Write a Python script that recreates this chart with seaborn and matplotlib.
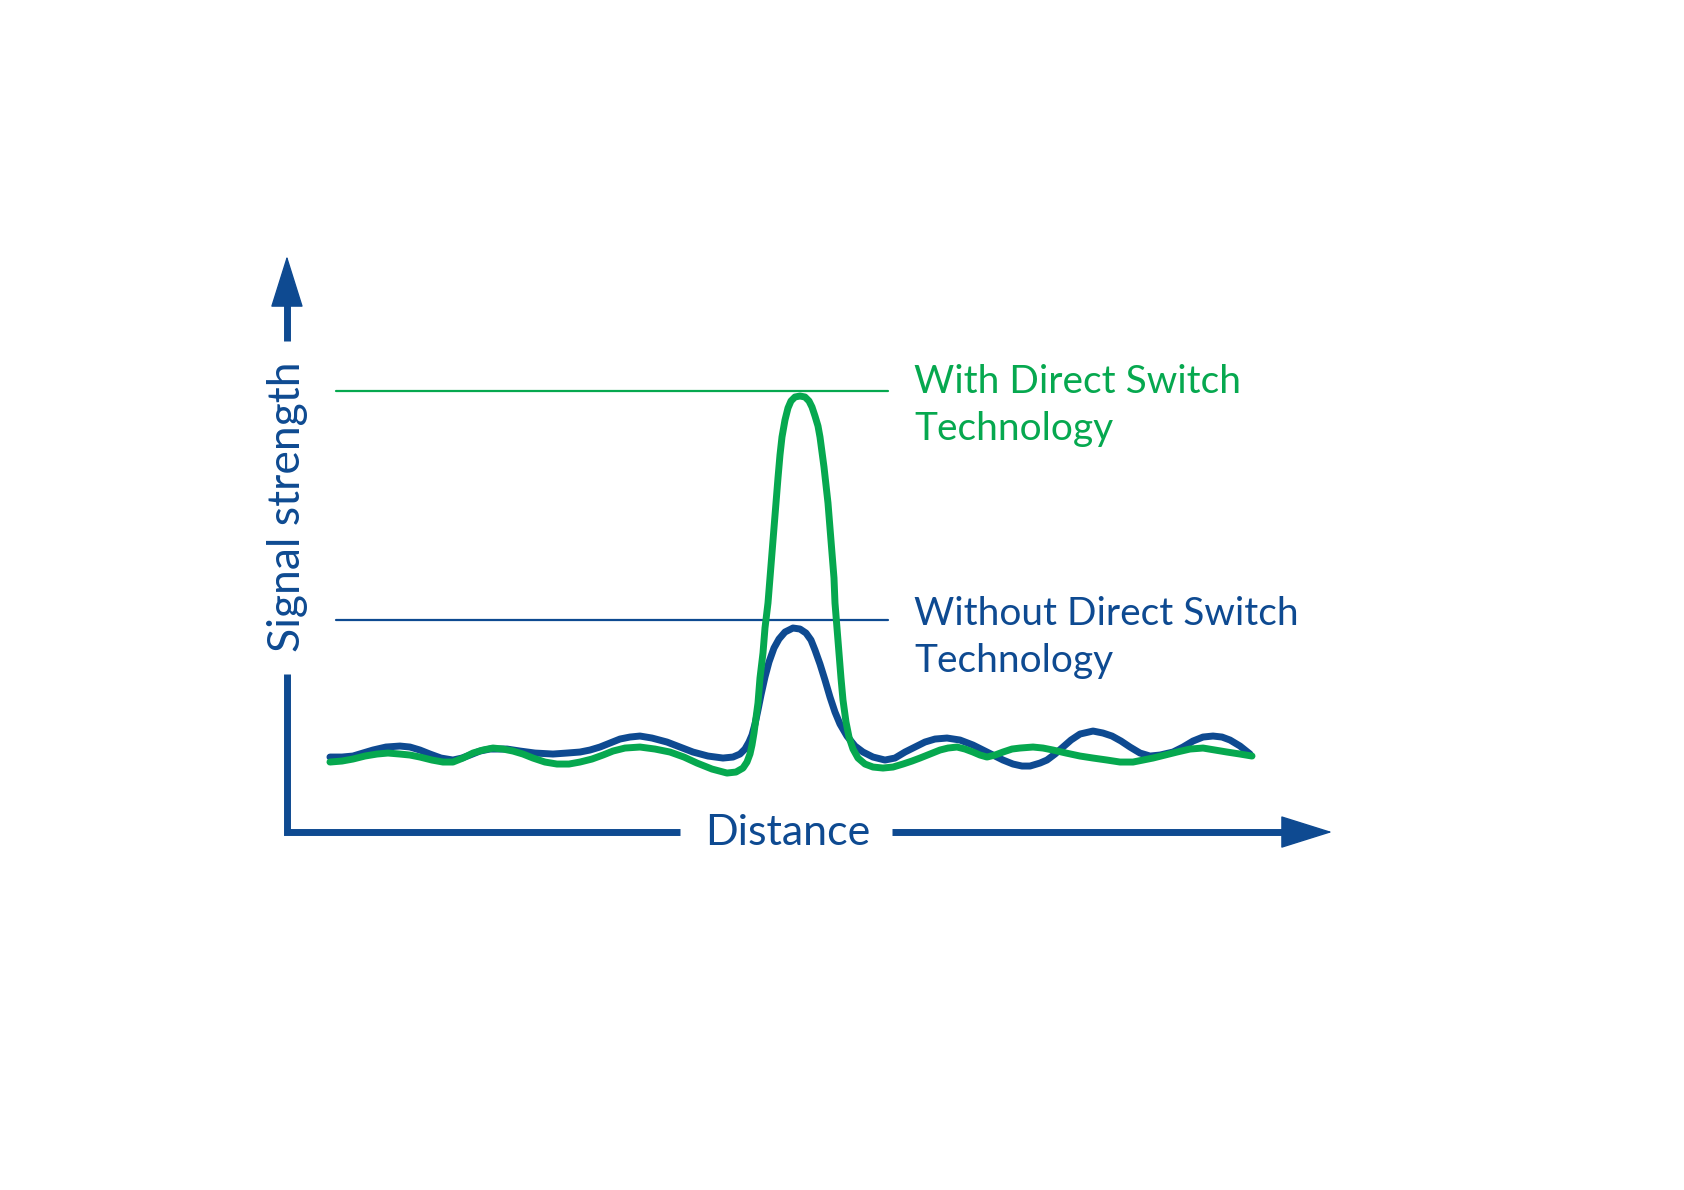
import pandas as pd
import matplotlib.pyplot as plt
import seaborn as sns

BLUE = "#0e4a91"
GREEN = "#06a84f"

# distance / signal strength (arbitrary units)
blue_distance = [43, 55, 66, 76, 86, 99, 113, 123, 133, 143,
                 154, 166, 175, 183, 193, 203, 220, 233, 248, 266,
                 280, 293, 303, 313, 323, 333, 343, 353, 365, 380,
                 393, 406, 421, 436, 446, 453, 458, 462, 465, 468,
                 471, 474, 478, 482, 487, 492, 498, 506, 513, 519,
                 524, 528, 533, 538, 543, 548, 553, 560, 568, 576,
                 586, 598, 608, 618, 628, 638, 648, 660, 673, 686,
                 696, 706, 716, 726, 735, 743, 753, 760, 768, 776,
                 784, 793, 806, 816, 825, 834, 843, 853, 863, 873,
                 886, 896, 906, 916, 926, 935, 943, 953, 963]
blue_signal = [75, 75, 76, 79, 82, 85, 86, 85, 82, 78,
               74, 72, 74, 77, 81, 83, 83, 81, 79, 78,
               79, 80, 82, 85, 89, 93, 95, 96, 94, 90,
               85, 80, 76, 74, 75, 78, 83, 90, 97, 108,
               122, 137, 155, 170, 184, 193, 200, 204, 203, 199,
               192, 182, 168, 152, 135, 120, 108, 96, 86, 80,
               75, 72, 74, 80, 85, 90, 93, 94, 92, 87,
               82, 77, 72, 68, 66, 66, 69, 72, 78, 85,
               92, 98, 101, 99, 96, 91, 85, 79, 76, 77,
               80, 85, 91, 95, 96, 95, 92, 86, 78]

green_distance = [43, 55, 66, 78, 90, 101, 113, 123, 133, 145,
                  156, 166, 176, 186, 196, 206, 216, 226, 236, 246,
                  258, 270, 282, 293, 305, 316, 326, 338, 353, 368,
                  383, 397, 410, 425, 440, 449, 456, 460, 463, 465,
                  467, 469, 471, 473, 476, 478, 481, 483, 485, 487,
                  489, 491, 493, 495, 498, 501, 504, 508, 513, 518,
                  522, 525, 528, 531, 533, 535, 537, 539, 541, 543,
                  545, 547, 548, 550, 552, 554, 556, 559, 562, 566,
                  571, 578, 586, 596, 606, 616, 625, 633, 643, 653,
                  661, 670, 678, 686, 693, 700, 708, 716, 725, 733,
                  746, 756, 766, 779, 793, 806, 820, 833, 846, 856,
                  866, 878, 890, 903, 916, 928, 940, 953, 965]
green_signal = [70, 71, 73, 76, 78, 79, 78, 77, 75, 72,
                70, 70, 74, 79, 82, 84, 83, 81, 78, 74,
                70, 68, 68, 70, 73, 77, 81, 84, 85, 83,
                80, 75, 69, 63, 59, 60, 64, 70, 78, 87,
                99, 114, 129, 154, 179, 204, 229, 254, 279, 304,
                329, 354, 377, 395, 412, 424, 431, 435, 436, 435,
                431, 425, 416, 406, 395, 380, 365, 347, 329, 304,
                279, 254, 229, 204, 179, 154, 132, 110, 95, 83,
                74, 68, 65, 64, 65, 68, 71, 74, 78, 82,
                84, 85, 83, 80, 77, 75, 77, 80, 83, 84,
                85, 84, 82, 79, 76, 74, 72, 70, 70, 72,
                74, 77, 80, 83, 84, 82, 80, 78, 76]

# reference levels and their extent
level_with = 441
level_without = 212
level_span = [49, 601]

label_with = "With Direct Switch\nTechnology"
label_without = "Without Direct Switch\nTechnology"


def main():
    sns.set_theme(style="white")
    plt.rcParams["font.family"] = ["Lato", "DejaVu Sans"]

    fig = plt.figure(figsize=(16.84, 11.90), dpi=100)
    ax = fig.add_axes([0.1704, 0.3008, 0.6194, 0.4824])
    ax.set_xlim(0, 1043)
    ax.set_ylim(0, 574)
    ax.axis("off")

    blue_df = pd.DataFrame({"distance": blue_distance, "signal": blue_signal})
    green_df = pd.DataFrame({"distance": green_distance, "signal": green_signal})

    # reference levels
    ax.plot(level_span, [level_with, level_with], color=GREEN, lw=1.6)
    ax.plot(level_span, [level_without, level_without], color=BLUE, lw=1.6)

    sns.lineplot(data=blue_df, x="distance", y="signal", color=BLUE, lw=5,
                 estimator=None, ax=ax, solid_capstyle="round")
    sns.lineplot(data=green_df, x="distance", y="signal", color=GREEN, lw=5,
                 estimator=None, ax=ax, solid_capstyle="round")

    # axes drawn by hand, with gaps for the titles
    shaft = dict(color=BLUE, lw=5, clip_on=False, solid_capstyle="butt")
    ax.plot([0, 0, 393], [158, 0, 0], solid_joinstyle="miter", **shaft)
    ax.plot([0, 0], [491, 535], **shaft)
    ax.plot([605, 1000], [0, 0], **shaft)
    head = dict(arrowstyle="-|>,head_length=0.86,head_width=0.27", color=BLUE, lw=1,
                mutation_scale=40, shrinkA=0, shrinkB=0)
    ax.annotate("", xy=(0, 576), xytext=(0, 520), arrowprops=head, annotation_clip=False)
    ax.annotate("", xy=(1045, 0), xytext=(990, 0), arrowprops=head, annotation_clip=False)

    ax.text(501, -13, "Distance", color=BLUE, fontsize=31, ha="center", va="baseline")
    ax.text(1, 325, "Signal strength", color=BLUE, fontsize=32, rotation=90,
            ha="center", va="center")

    # va="baseline" puts the last line's baseline at y
    ax.text(627, 392, label_with, color=GREEN, fontsize=28, ha="left",
            va="baseline", linespacing=1.38)
    ax.text(627, 160, label_without, color=BLUE, fontsize=28, ha="left",
            va="baseline", linespacing=1.38)

    fig.savefig("out.png", dpi=100, facecolor="white")
    plt.close("all")


if __name__ == "__main__":
    main()
